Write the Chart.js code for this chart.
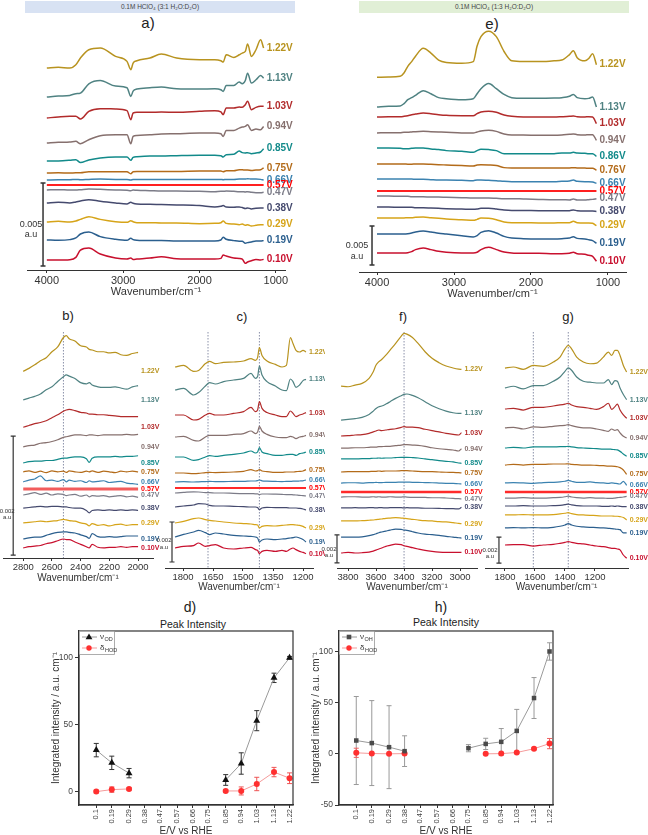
<!DOCTYPE html>
<html>
<head>
<meta charset="utf-8">
<title>Spectra and peak intensity</title>
<script src="https://cdn.jsdelivr.net/npm/chart.js@4.4.1/dist/chart.umd.min.js"></script>
<style>
  body { margin: 0; background: #fff; }
  #fig { position: relative; width: 648px; height: 835px; overflow: hidden; font-family: "Liberation Sans", Arial, sans-serif; color: #222; }
  #fig canvas { position: absolute; }
  .lbl { position: absolute; transform: translate(-50%, -50%); white-space: nowrap; }
  .band { position: absolute; top: 1px; width: 270px; height: 12px; line-height: 12px; font-size: 6.5px; text-align: center; color: #444; }
</style>
</head>
<body>
<div id="fig">
  <div class="band" style="left:25px;background:#d8e2f3;">0.1M HClO₄ (3:1 H₂O:D₂O)</div>
  <div class="band" style="left:359px;background:#e1efd6;">0.1M HClO₄ (1:3 H₂O:D₂O)</div>
  <div class="lbl" style="left:148px;top:22px;font-size:15px;">a)</div>
  <div class="lbl" style="left:492px;top:23px;font-size:15px;">e)</div>
  <div class="lbl" style="left:68px;top:315px;font-size:13px;">b)</div>
  <div class="lbl" style="left:242px;top:316px;font-size:13px;">c)</div>
  <div class="lbl" style="left:403px;top:316px;font-size:13px;">f)</div>
  <div class="lbl" style="left:568px;top:316px;font-size:13px;">g)</div>
  <div class="lbl" style="left:190px;top:607px;font-size:14px;">d)</div>
  <div class="lbl" style="left:441px;top:607px;font-size:14px;">h)</div>
  <div class="lbl" style="left:193px;top:624px;font-size:10.5px;">Peak Intensity</div>
  <div class="lbl" style="left:446px;top:622px;font-size:10.5px;">Peak Intensity</div>

  <canvas id="ca" width="324" height="275" style="left:0;top:25px"></canvas>
  <canvas id="ce" width="324" height="277" style="left:324px;top:25px"></canvas>
  <canvas id="cb" width="170" height="267" style="left:0;top:318px"></canvas>
  <canvas id="cc" width="175" height="276" style="left:150px;top:318px"></canvas>
  <canvas id="cf" width="172" height="276" style="left:318px;top:318px"></canvas>
  <canvas id="cg" width="170" height="276" style="left:478px;top:318px"></canvas>
  <canvas id="cd" width="255" height="225" style="left:50px;top:612px"></canvas>
  <canvas id="ch" width="255" height="225" style="left:310px;top:612px"></canvas>
</div>
<script>
// potentials (top to bottom in every stack)
const voltsA = ['1.22V','1.13V','1.03V','0.94V','0.85V','0.75V','0.66V','0.57V','0.47V','0.38V','0.29V','0.19V','0.10V'];
const voltsE = ['1.22V','1.13V','1.03V','0.94V','0.86V','0.76V','0.66V','0.57V','0.47V','0.38V','0.29V','0.19V','0.10V'];

// stacked spectra, y in 1e-4 a.u. (offset of each trace + its shape)
const aWavenumbers = [4000,3850,3700,3620,3560,3450,3300,3100,2950,2900,2870,2820,2650,2500,2300,2000,1800,1720,1690,1650,1550,1480,1440,1400,1370,1320,1260,1200,1160];
const aOffsets = [121.7,104.2,91.6,76.5,65.1,58.4,54.2,51.2,48.2,40.4,28.9,18.1,6.0];
const aTraces = [
  [0,0.4,0,2,6,11,12,7,4,-1,3,4.4,6,8.4,6,5,5,4.4,3.6,8,6.4,8,9,10,14.4,7,11,17,12],
  [0,0.6,1,2,2.4,8,10,6.6,5.6,0.4,3.6,4.8,5.6,6,5,4.8,5,4.4,3.4,7,7,9,8,10,14.4,8.4,10.4,13,11.4],
  [0,0.6,1,1,-0.6,4,5.6,5.4,4.4,-1,3,3.4,3.4,3.6,3.4,4,4.4,3.6,2,6,6,6.6,6.4,8,10,5,6.4,7,7],
  [0,0.4,0.6,1,-0.4,2,4.4,5,5,-0.4,4,4.6,5,5.4,5.6,6,6,5.6,4,7.6,7.6,9,9.6,10,11,7.6,8.4,8,10],
  [0.6,0.6,1,1.4,-0.4,1.2,2.4,3,3,1,2.8,3.2,3.6,3.6,3.8,4,4,3.8,3,4.4,4.6,6.6,5.6,5.4,5.6,5,5.4,6,8],
  [0,0.2,0,0.2,0.2,0.8,0.8,0.8,0.8,-0.4,0.8,1,1,1,1,1.2,1.2,1.2,0.8,1.4,1.4,2,2,1.8,1.8,1.6,1.8,2,3.2],
  [0,0.2,0.2,0.4,0.2,0.4,0.6,0.4,0.4,0,0.4,0.4,0.4,0.4,0.4,0.4,0.4,0.4,0.2,0.4,0.4,0.6,0.6,0.6,0.8,0.6,0.6,0.4,0],
  [0,0,0,0,0,0,0,0,0,0,0,0,0,0,0,0,0,0,0,0,0,0,0,0,0,0,0,0,0],
  [0,0.2,0,0,0.2,0.6,0.4,0,-0.2,-0.4,0,-0.2,-0.4,-0.6,-0.6,-0.8,-1,-0.8,-0.8,-0.6,-0.8,-1,-1,-1.2,-1,-1.4,-1.6,-1.6,-1.4],
  [0,0.4,0,0.6,1.2,2,1,0,-0.6,0.4,-0.2,-0.6,-0.8,-1,-1.2,-1.6,-2.4,-2,-1.6,-2.4,-2.6,-2.4,-2.8,-3.4,-3,-3.6,-3.2,-3,-3],
  [0,0.4,0,0.6,1.6,3.2,1.6,0.2,-0.2,0.8,0.2,-0.4,-0.4,-0.6,-0.6,-1,-0.8,-0.4,0.6,-0.8,-1.2,-1.6,-1.2,-2,-1.6,-2.4,-2,-1.6,-1.6],
  [0,-0.2,0.2,1.2,3.6,4.8,2,0.4,-0.2,1,0.2,-0.2,-0.4,-0.4,-0.6,-0.6,-0.6,0,1.6,0.4,-0.4,-0.8,-0.8,-2,-1.6,-1.2,-0.6,-0.6,-0.4],
  [0,0,0.2,1.6,6,7.2,3.6,1.2,0.6,1.2,0.4,0.6,1.2,2,0.8,0.6,0.6,1,3,2.4,1.2,1,0.6,-2,-1.2,-0.4,0.4,0,0.4]
];

const eWavenumbers = [4000,3850,3700,3650,3600,3550,3500,3400,3300,3200,3100,2900,2750,2700,2650,2550,2450,2350,2250,2100,1900,1700,1600,1500,1450,1400,1300,1250,1200,1150];
const eOffsets = [248.7,211.5,198.7,178.2,159,138.5,119.2,103.8,97.4,83.3,69.2,48.7,24.4];
const eTraces = [
  [0.9,1.3,2.1,6.4,15,21,28,38,32,23,20,19,21,41,53,60,53,34,22,21,21,22,23,30,35,26,22,25,31,17],
  [0,0.9,1.3,4.3,9.4,12,15,21,17,12,10.7,9.4,10.7,17,23.5,30,23.5,16.2,12,11.1,11.1,11.5,12,13.7,16.2,12,10.7,11.1,12.8,0],
  [0,0.4,0.4,0.9,1.7,3,3.8,5.1,4.3,3,2.1,1.7,1.7,4.3,6.4,7.3,6,2.6,0.9,0,0,0,0.4,0.9,1.3,0.4,0,0.4,0,-8.5],
  [0,0.4,0.4,0.9,0.9,1.3,1.7,2.1,1.7,1.3,0.9,0,0,1.3,2.6,3.4,2.1,-1.3,-2.6,-2.6,-3,-3,-2.6,-1.7,-1.3,-2.1,-2.6,-2.1,-2.1,-9.4],
  [0,0,-0.4,-0.9,-0.9,-0.4,0,0,-1.3,-2.1,-3.4,-4.3,-5.6,-3.4,-1.7,-2.1,-3.4,-7.3,-7.3,-7.3,-7.3,-7.3,-6.4,-6.4,-5.6,-6.4,-6.8,-7.3,-7.3,-10.7],
  [0,0,0,0,-0.4,-0.4,0,0,-0.4,-0.9,-1.3,-2.1,-2.6,-1.3,-0.9,-1.3,-2.1,-4.7,-5.1,-5.1,-5.1,-5.1,-5.1,-5.1,-4.7,-5.1,-5.1,-5.6,-5.6,-8.1],
  [0,0,0,0,0,0,-0.4,-0.4,-0.9,-1.3,-1.3,-1.7,-2.1,-1.3,-1.3,-1.7,-2.1,-3,-3.4,-3.4,-3.4,-3.4,-3,-2.6,-1.3,-3,-3.4,-3.4,-3.8,-5.6],
  [0,0,0,0,0,0,0,0,0,0,0,0,0,0,0,0,0,0,0,0,0,0,0,0,0,0,0,0,0,0],
  [0,0,-0.4,-0.4,-0.4,-0.9,-0.9,-0.9,-1.3,-1.3,-1.7,-2.1,-2.6,-2.6,-2.6,-2.6,-3,-3.4,-3.4,-3.8,-4.3,-4.7,-4.7,-5.1,-3.8,-5.1,-5.1,-4.7,-4.3,-3.4],
  [0,0,-0.4,-0.4,-0.4,-0.4,-0.9,-0.9,-1.3,-1.7,-2.1,-2.6,-3,-2.6,-1.7,-1.7,-2.6,-3.8,-4.3,-4.3,-4.7,-4.7,-4.7,-4.7,-3.8,-4.7,-5.1,-5.1,-5.1,-5.6],
  [0,0,0,0,0.4,0.4,0.9,1.3,0.4,-0.4,-1.3,-2.1,-3,-1.7,0,-0.4,-2.1,-5.1,-6,-6,-6.4,-6.4,-6,-6,-4.3,-6,-6.4,-6.4,-6.8,-9.8],
  [0,0,0,0,0.4,1.3,2.6,3.8,2.6,0.9,0,-2.1,-3.8,-2.1,2.1,4.3,1.3,-3,-5.1,-6,-6.4,-6.4,-6,-5.1,-3.4,-5.6,-6.4,-7.3,-8.5,-12],
  [0,0,0,0,0.4,1.7,4.3,6.4,4.3,2.1,0.9,0,0,0.9,4.3,7.3,4.3,1.3,0,-0.4,-0.4,-0.9,-0.9,-0.4,0.9,-0.9,-1.7,-3,-4.3,-10.7]
];

const bWavenumbers = [2800,2760,2720,2680,2640,2600,2560,2520,2500,2480,2440,2400,2360,2340,2320,2280,2240,2200,2160,2120,2080,2040,2000];
const bOffsets = [31.4,26.6,22.0,18.7,16.0,14.5,12.8,11.6,10.6,8.4,5.9,3.2,1.7];
const bTraces = [
  [0,0.5,1.1,1.8,2.3,3.3,4.1,5.7,6,5.5,5.1,4.3,4.1,3.7,3.6,3.3,3.3,3.1,3.2,2.8,2.7,3,3.2],
  [0,0.3,0.6,1,1.7,2.2,3.1,3.9,4.2,4,3.6,2.9,2.7,2.9,2.5,2.2,2.1,2.1,2.2,2,1.8,2.2,2.4],
  [0,0.3,0.6,0.8,1.1,1.6,2.1,2.7,2.9,3,2.8,2.5,2.4,2.2,2.2,2.1,2.1,2,1.9,1.8,1.8,1.8,1.8],
  [0,0.2,0.3,0.6,0.7,0.9,1.2,1.6,1.7,1.8,2,2,1.9,2,2,1.9,2,2,2,2,2.1,2,2.1],
  [0,0.2,0.3,0.3,0.4,0.4,0.6,0.8,0.8,0.9,1,1,0.7,0.1,0.8,1,1,1,1.1,1,1.1,1.1,1.2],
  [0,0.15,-0.1,0.1,-0.15,0.15,0,0.1,-0.1,0.15,0,-0.1,0.1,0,0.15,-0.1,0.1,0,-0.15,0.1,0,0.1,0],
  [0,0.3,0.5,1,0.2,0.3,0.1,0.4,0,0.3,0.1,0.2,-0.1,0.2,0,0.1,0.2,-0.1,0,0.1,-0.2,-0.3,-0.4],
  [0,0,0,0,0,0,0,0,0,0,0,0,0,0,0,0,0,0,0,0,0,0,0],
  [0,0.2,0.4,0.1,0.3,0,0.2,0.1,-0.1,0,0.1,-0.2,0,-0.3,-0.1,-0.2,-0.1,-0.3,-0.2,-0.1,-0.3,-0.2,-0.4],
  [0,0.1,0.2,0.3,0.2,0.3,0.3,0.2,0.2,0.1,0,0,-0.4,-0.8,-0.4,-0.3,-0.4,-0.3,-0.4,-0.3,-0.4,-0.3,-0.4],
  [0,0.1,0.2,0.3,0.2,0.3,0.4,0.6,0.5,0.4,0.3,0,-0.2,-0.5,-0.1,-0.4,-0.3,-0.5,-0.3,-0.2,-0.4,-0.3,-0.3],
  [0,0.2,0.3,0.3,0.6,0.9,1.1,1.2,1.2,1.1,1,0.7,0.4,0.1,0.9,0.4,0.3,0.4,0.3,0.4,0.5,0.5,0.5],
  [0,0.2,0.3,0.4,0.7,0.9,1.2,1.5,1.4,1.4,1,0.6,0.2,0,0.6,0.1,0,0.1,0.1,0.2,0.1,0.2,0.2]
];

const cWavenumbers = [1840,1797,1747,1722,1688,1667,1638,1597,1547,1497,1460,1438,1427,1418,1405,1380,1338,1305,1283,1263,1250,1235,1217,1200,1185];
const cOffsets = [100.5,89,76.5,65.5,55.5,47.5,43,40,37.5,30.5,22.5,15.5,10];
const cTraces = [
  [0,0.8,-2.2,-1.7,1.7,2.8,1.7,2.3,2.5,3,4.2,3.3,4.7,9.7,5.8,3,1.3,0,0.8,14.7,11.7,8.3,7.5,8.3,7.5],
  [0,0.8,-2.5,-1.3,2,3.7,3,4.2,5,5.8,8.3,5.8,6.7,12,7.5,4.2,2,0,-0.3,5.5,4.2,1.3,2.5,4.7,5.3],
  [0,0,-2.5,-2.2,0,0.8,0,0,0.8,1.7,3.8,1.7,2.5,6.7,3.3,1.2,0,-0.8,-0.8,2,0.8,-0.8,0,0.5,1.2],
  [0,0.3,-1.7,-2,0,0.8,0.8,0.8,1.3,1.7,3,1.7,2.5,5.3,3,1.3,0,-0.3,-0.3,0.3,0,-0.8,0,0.3,0.8],
  [0,0,-1.7,-1.3,0,0.7,0.3,0.8,1.3,2,3,2,2.5,4.7,2.5,1.7,0.8,0.8,1.2,1.3,1.3,0.8,1.7,2,2.5],
  [0,0,-0.3,-0.2,0.2,0.3,0.2,0.3,0.5,0.8,1.7,1,1.2,1.7,1,0.7,0.3,0.3,0.5,0.5,0.5,0.7,0.8,1,1.7],
  [0,0.2,0,0.1,0.2,0.3,0.2,0.2,0.3,0.3,0.5,0.5,0.7,1,0.6,0.4,0.3,0.2,0.3,0.3,0.4,0.4,0.5,0.6,1],
  [0,0,0,0,0,0,0,0,0,0,0,0,0,0,0,0,0,0,0,0,0,0,0,0,0],
  [0,0.3,0.6,0.5,0.2,0.2,0,0,-0.2,-0.3,-0.3,-0.4,-0.4,-0.8,-0.5,-0.5,-0.6,-0.7,-0.8,-0.8,-0.9,-1,-1.2,-1.3,-1.5],
  [0,0.5,1,1.7,1.5,0.8,0.5,0.5,0.3,0.2,0,0,-0.3,-1.3,-0.5,-0.2,-0.3,-0.3,-0.3,-0.5,-0.5,-0.5,-0.7,-1,-1.5],
  [0,0.8,2.2,2.5,1.7,1.3,1,0.5,0,-0.3,-0.5,-0.8,-1,-2.5,-1.7,-1.3,-1.5,-1.2,-1,-0.8,-0.8,-1,-1.2,-1.7,-2.5],
  [0,1.3,2.5,3.3,2.2,1.2,2,1.5,0.8,0.5,0.3,0,-0.5,-2.5,-1.5,-1,-1.3,-1,-0.8,-0.5,-0.3,0,-0.5,-1.3,-2.5],
  [0,0.8,1.2,2.5,0.8,1.2,1.7,0,-0.5,0,0.3,-0.8,-1.2,-2.8,-1.7,-1.2,-1.7,-1.2,-1.7,-0.5,0,-0.8,-1.7,-2.2,-2.8]
];

const fWavenumbers = [3850,3800,3750,3700,3650,3620,3600,3580,3560,3530,3500,3460,3420,3400,3380,3340,3300,3250,3200,3150,3100,3050,3010,2990];
const fOffsets = [130,105.7,94.3,85.7,77.9,68.6,60.7,54.3,50.7,42.9,33.6,22.1,10.7];
const fTraces = [
  [0,-0.5,0.7,1.9,5.5,10.2,15,17.4,19,22.1,25.7,30.5,35.7,37.6,37.1,34.7,30.5,24.5,19.8,16.7,14.3,12.9,12.1,11.9],
  [0,0.5,1,1.9,4,6.4,8.3,9.5,10,11.4,13.1,15.5,17.4,18.3,18.6,17.6,15.9,13.1,10.2,8.1,6.4,5.2,4.8,4.8],
  [0,0.2,0.7,1,1.9,2.9,3.6,4.3,3.8,4.3,4.8,5.2,6.2,6.7,6.4,6.4,6,4.8,3.8,2.9,1.9,1.2,0.7,2.4],
  [0,0,0.2,0.2,0.5,0.7,0.7,1,1,1.2,1.2,1.7,2.1,2.4,2.4,2.1,1.9,1.2,0.2,-0.5,-1,-1.4,-2.1,-0.5],
  [0,0,0,0.2,0.2,0.5,0.5,0.7,0.5,0.7,0.7,1,1.2,1.2,1.2,1,0.7,0,-0.5,-1.2,-1.7,-2.1,-2.9,-3.1],
  [0,0.2,0.2,0.3,0.3,0.5,0.5,0.7,0.5,0.7,0.7,0.7,0.9,1,0.9,0.7,0.5,0.3,0.2,0,-0.2,-0.3,-0.5,-0.7],
  [0,0.2,0.2,0,0.3,0.3,0.5,0.3,0.3,0.5,0.5,0.5,0.7,0.7,0.7,0.5,0.5,0.3,0.2,0,-0.2,-0.3,-0.5,-0.7],
  [0,0,0,0,0,0,0,0,0,0,0,0,0,0,0,0,0,0,0,0,0,0,0,0],
  [0,0.2,0.2,0,0,0.2,0,0.2,0,0,0.2,0,0,0.2,0,-0.2,-0.2,-0.3,-0.5,-0.5,-0.7,-1,-1.2,-1.4],
  [0,0,0.2,0,0.2,0.2,0,0.2,0.2,0,0.2,0.2,0.2,0,0.2,0,0,-0.2,-0.2,-0.3,-0.5,-0.5,-0.7,0.5],
  [0,0,0,0.2,0.5,0.7,1,1.2,1.4,1.9,2.1,2.4,2.1,1.9,1.7,1.2,0.7,0.2,0,-0.5,-0.7,-1.2,-1.7,-1.9],
  [0,0,0,0.2,1,1.7,2.4,3.1,3.6,4.3,5,5.7,5.5,5,4.8,3.8,2.9,2.1,1.7,1.2,0.5,0,-0.5,-0.7],
  [0,0.5,0,0.2,0.7,1.4,2.1,2.9,3.6,4.8,5.5,6.4,6,5.2,4.8,3.8,2.9,1.9,1.2,0.7,0.5,0.5,0.5,0.5]
];

const gWavenumbers = [1800,1744,1678,1611,1544,1478,1433,1400,1378,1356,1322,1278,1233,1189,1144,1111,1089,1067,1051,1033,1011,989];
const gOffsets = [153.8,138.5,122.3,107.7,92.3,79.2,65.4,58.5,53.8,47.7,40.8,30.8,17.7];
const gTraces = [
  [0,0.8,-1,2,1.3,4.6,8.4,14.8,17.4,14.8,8.4,4.6,3.3,3.8,8.4,12.3,9.7,13.6,13.6,9.7,2,-3.1],
  [0,1.3,-0.8,1.8,1.8,5.1,8.4,12.8,15.4,13.6,8.4,5.1,4.4,3.8,3.8,6.4,2.6,5.6,5.1,0,-5.1,-9],
  [0,0.5,-0.8,1.3,1.3,2.3,3.1,3.8,4.4,3.1,1.8,1.3,0.5,-0.3,1.8,4.4,-0.3,1.8,3.8,-0.8,-4.6,-7.2],
  [0,0.5,-0.8,0.8,0.5,1.3,1.8,2,2.6,1.8,0.8,0,0,-0.8,-1.8,-2.6,-0.8,-1.8,-1.3,-3.8,-6.4,-7.7],
  [0,0.5,0,0.8,0.8,0.8,1,1,1.3,0.8,0.3,0,-0.3,-0.5,-0.8,-0.8,-1,-1.3,-1.5,-2.6,-4.6,-6.4],
  [0,0.5,0,0.5,0.5,0.8,0.8,0.8,1,0.5,0.3,0,0,-0.3,-0.5,-0.8,-0.8,-1,-1.3,-2,-3.8,-7.2],
  [0,0.3,0,-0.3,0.3,0.5,0.8,1.3,2,1.3,0.5,0.5,0.8,0.3,0,-0.3,0,-0.3,-0.5,-0.8,1.3,-1.8],
  [0,0,0,0,0,0,0,0,0,0,0,0,0,0,0,0,0,0,0,0,0,0],
  [0,0,0.3,0,0,0.3,0.5,1,1.5,0.8,0.3,0,0.3,0,0,-0.3,-0.3,0,0.3,0.5,0.8,1.3],
  [0,0,0.3,0,0,0.3,0.5,1,1.5,0.8,0.3,0,0,0,-0.3,-0.3,0,-0.3,0,-0.3,-0.5,-0.5],
  [0,0,0.3,0,0,0.3,0.8,1.3,1.8,1,0.3,0,-0.3,-0.5,-0.8,-0.8,-0.8,-1,-1,-1.3,-2,-3.8],
  [0,0.3,0,0.3,0,0.5,1.3,2.3,3.3,2.3,1.3,0.8,0.5,0.3,0,-0.3,-0.5,-0.8,-1,-1.3,-3.8,-3.8],
  [0,0.3,0.3,-0.8,0,0.5,1.3,2,2.6,2,1.3,0.8,0,-0.8,-1.3,-2,-2.6,-2.6,-3.1,-3.8,-7.7,-10.2]
];

// peak intensity panels
const ePot = [0.1,0.19,0.29,0.38,0.47,0.57,0.66,0.75,0.85,0.94,1.03,1.13,1.22];
const dNuOD = [31,21.5,13.8,null,null,null,null,null,8.7,21,53,85,100];
const dNuODErr = [5,5,3.5,0,0,0,0,0,4,8,7.5,3.5,1];
const dDeltaHOD = [0,1.5,2,null,null,null,null,null,0.5,0.5,5.7,14.6,10];
const dDeltaHODErr = [1,2,1,0,0,0,0,0,1,3,5,3.5,4];
const hNuOH = [13,10.5,6.5,2.6,null,null,null,5.5,9.7,11.7,22.4,54.5,100];
const hNuOHErr = [43,41.5,40.5,15,0,0,0,3.5,5.5,13,21,20,8.5];
const hDeltaHOD = [1,0.3,0,0.2,null,null,null,null,0,0.2,1.3,5,10];
const hDeltaHODErr = [4.5,0,0,0,0,0,0,0,0,0,1,1,5];

Chart.defaults.font.family = '"Liberation Sans", Arial, sans-serif';
Chart.defaults.color = '#333';

const traceColors = ['#b8931f','#4f8282','#b22b2b','#86706e','#128a8a','#b36b1a','#3b82b0','#ff1a1a','#7c7c88','#454a6e','#d6a419','#2b5f8e','#c8102e'];
const FONT = '"Liberation Sans", Arial, sans-serif';

function specDeco(o) {
  return {
    id: 'specDeco',
    beforeDatasetsDraw(chart) {
      const { ctx, chartArea, scales: { x } } = chart;
      ctx.save();
      ctx.strokeStyle = '#8a90a8';
      ctx.lineWidth = 1;
      ctx.setLineDash([1.5, 1.5]);
      (o.guides || []).forEach(g => {
        const px = x.getPixelForValue(g);
        ctx.beginPath();
        ctx.moveTo(px, chartArea.top + 7);
        ctx.lineTo(px, chartArea.bottom);
        ctx.stroke();
      });
      ctx.restore();
    },
    afterDatasetsDraw(chart) {
      const { ctx, scales: { x, y } } = chart;
      ctx.save();
      ctx.font = o.labelFont;
      ctx.textBaseline = 'middle';
      ctx.textAlign = 'left';
      chart.data.datasets.forEach((ds, i) => {
        const pts = chart.getDatasetMeta(i).data;
        const last = pts[pts.length - 1];
        const py = o.labelAtStart ? pts[0].y : last.y;
        ctx.fillStyle = i === 7 ? '#ff0000' : traceColors[i];
        ctx.fillText(ds.label, last.x + 3, py);
      });
      // scale bar
      const b = o.bar;
      const bx = x.getPixelForValue(b.x);
      const y0 = y.getPixelForValue(b.from);
      const y1 = y.getPixelForValue(b.from + b.len);
      ctx.strokeStyle = '#333';
      ctx.lineWidth = b.w;
      ctx.beginPath();
      ctx.moveTo(bx, y0); ctx.lineTo(bx, y1);
      ctx.moveTo(bx - 2.5, y0); ctx.lineTo(bx + 2.5, y0);
      ctx.moveTo(bx - 2.5, y1); ctx.lineTo(bx + 2.5, y1);
      ctx.stroke();
      ctx.fillStyle = '#333';
      ctx.font = b.font;
      ctx.textAlign = 'center';
      const my = (y0 + y1) / 2 + b.dy;
      ctx.fillText(b.text, bx + b.dx, my);
      ctx.fillText('a.u', bx + b.dx, my + b.lh);
      ctx.restore();
    }
  };
}

function makeSpectrum(id, o) {
  const datasets = o.traces.map((tr, i) => ({
    label: o.volts[i],
    data: o.wn.map((w, j) => ({ x: w, y: o.offsets[i] + (tr[j] || 0) })),
    borderColor: i === 7 ? o.redColor : traceColors[i],
    borderWidth: i === 7 ? o.redWidth : o.lineWidth,
    pointRadius: 0,
    cubicInterpolationMode: 'monotone',
    clip: false
  }));
  new Chart(document.getElementById(id), {
    type: 'line',
    data: { datasets },
    options: {
      responsive: false, animation: false, events: [],
      layout: { padding: o.pad },
      plugins: { legend: { display: false }, tooltip: { enabled: false } },
      scales: {
        x: {
          type: 'linear', reverse: true, min: o.xmin, max: o.xmax,
          afterBuildTicks: s => { s.ticks = o.ticks.map(v => ({ value: v })); },
          afterFit: s => { s.height = o.axisH; },
          grid: { display: true, drawOnChartArea: false, drawTicks: true, tickLength: 3, color: '#333' },
          border: { color: '#333', width: 1 },
          ticks: { color: '#333', font: { size: o.tickSize }, padding: 1, maxRotation: 0, autoSkip: false, callback: v => String(v) },
          title: { display: true, text: 'Wavenumber/cm⁻¹', color: '#333', font: { size: o.titleSize }, padding: { top: 0, bottom: 1 } }
        },
        y: { display: false, min: 0, max: o.ymax }
      }
    },
    plugins: [specDeco(o)]
  });
}

makeSpectrum('ca', {
  wn: aWavenumbers, offsets: aOffsets, traces: aTraces, volts: voltsA,
  pad: { left: 27, right: 39, top: 5, bottom: 0 }, axisH: 30, xmin: 880, xmax: 4260, ymax: 144.6,
  ticks: [4000, 3000, 2000, 1000], tickSize: 11, titleSize: 11,
  lineWidth: 1.5, redWidth: 2, redColor: '#ff2020', labelFont: 'bold 10px ' + FONT,
  bar: { x: 4050, from: 2.4, len: 50, text: '0.005', dx: -12, dy: 0, lh: 10, font: '9px ' + FONT, w: 1.5 }
});
makeSpectrum('ce', {
  wn: eWavenumbers, offsets: eOffsets, traces: eTraces, volts: voltsE,
  pad: { left: 35, right: 22, top: 3, bottom: 0 }, axisH: 30, xmin: 766, xmax: 4234, ymax: 312.8,
  ticks: [4000, 3000, 2000, 1000], tickSize: 11, titleSize: 11,
  lineWidth: 1.5, redWidth: 2, redColor: '#ff2020', labelFont: 'bold 10px ' + FONT,
  bar: { x: 4065, from: 9, len: 50, text: '0.005', dx: -15, dy: 0, lh: 11, font: '9px ' + FONT, w: 1.5 }
});
makeSpectrum('cb', {
  wn: bWavenumbers, offsets: bOffsets, traces: bTraces, volts: voltsA, labelAtStart: true, guides: [2520],
  pad: { left: 3, right: 17, top: 7, bottom: 0 }, axisH: 27, xmin: 1896, xmax: 2941, ymax: 39.2,
  ticks: [2800, 2600, 2400, 2200, 2000], tickSize: 9.5, titleSize: 10,
  lineWidth: 1.2, redWidth: 3, redColor: '#f25c5c', labelFont: 'bold 7px ' + FONT,
  bar: { x: 2870, from: 0.5, len: 20, text: '0.002', dx: -6, dy: 16, lh: 6, font: '6px ' + FONT, w: 1.2 }
});
makeSpectrum('cc', {
  wn: cWavenumbers, offsets: cOffsets, traces: cTraces, volts: voltsA, guides: [1675, 1418],
  pad: { left: 15, right: 12, top: 7, bottom: 0 }, axisH: 26, xmin: 1150, xmax: 1890, ymax: 121.5,
  ticks: [1800, 1650, 1500, 1350, 1200], tickSize: 9.5, titleSize: 10,
  lineWidth: 1.2, redWidth: 2, redColor: '#ff2a2a', labelFont: 'bold 7px ' + FONT,
  bar: { x: 1855, from: 3, len: 20, text: '0.002', dx: -8, dy: -2, lh: 7, font: '6px ' + FONT, w: 1.2 }
});
makeSpectrum('cf', {
  wn: fWavenumbers, offsets: fOffsets, traces: fTraces, volts: voltsA, guides: [3400],
  pad: { left: 19, right: 13, top: 7, bottom: 0 }, axisH: 26, xmin: 2879, xmax: 3879, ymax: 173.6,
  ticks: [3800, 3600, 3400, 3200, 3000], tickSize: 9.5, titleSize: 10,
  lineWidth: 1.2, redWidth: 2.5, redColor: '#ff2a2a', labelFont: 'bold 7px ' + FONT,
  bar: { x: 3879, from: 3.6, len: 20, text: '0.002', dx: -8, dy: 0, lh: 6, font: '6px ' + FONT, w: 1.2 }
});
makeSpectrum('cg', {
  wn: gWavenumbers, offsets: gOffsets, traces: gTraces, volts: voltsA, guides: [1611, 1378],
  pad: { left: 7, right: 20, top: 7, bottom: 0 }, axisH: 26, xmin: 980, xmax: 1933, ymax: 186.9,
  ticks: [1800, 1600, 1400, 1200], tickSize: 9.5, titleSize: 10,
  lineWidth: 1.2, redWidth: 2.5, redColor: '#ff2a2a', labelFont: 'bold 7px ' + FONT,
  bar: { x: 1840, from: 3.8, len: 20, text: '0.002', dx: -9, dy: 0, lh: 6, font: '6px ' + FONT, w: 1.2 }
});

function drawMarker(ctx, style, x, y, r, color) {
  ctx.fillStyle = color;
  ctx.beginPath();
  if (style === 'triangle') {
    ctx.moveTo(x, y - r); ctx.lineTo(x + r * 0.95, y + r * 0.65); ctx.lineTo(x - r * 0.95, y + r * 0.65); ctx.closePath();
  } else if (style === 'rect') {
    ctx.rect(x - r * 0.8, y - r * 0.8, r * 1.6, r * 1.6);
  } else {
    ctx.arc(x, y, r, 0, Math.PI * 2);
  }
  ctx.fill();
}

function intensityDeco(o) {
  return {
    id: 'intensityDeco',
    beforeDatasetsDraw(chart) {
      const { ctx, scales: { x, y } } = chart;
      ctx.save();
      o.series.forEach(s => {
        ctx.strokeStyle = s.errColor;
        ctx.lineWidth = 1;
        ePot.forEach((v, i) => {
          if (s.values[i] === null || !s.errors[i]) return;
          const px = x.getPixelForValue(v);
          const yt = y.getPixelForValue(s.values[i] + s.errors[i]);
          const yb = y.getPixelForValue(s.values[i] - s.errors[i]);
          ctx.beginPath();
          ctx.moveTo(px, yt); ctx.lineTo(px, yb);
          ctx.moveTo(px - 2.5, yt); ctx.lineTo(px + 2.5, yt);
          ctx.moveTo(px - 2.5, yb); ctx.lineTo(px + 2.5, yb);
          ctx.stroke();
        });
      });
      ctx.restore();
    },
    afterDraw(chart) {
      const { ctx, chartArea: a } = chart;
      ctx.save();
      ctx.strokeStyle = '#333';
      ctx.lineWidth = 1.2;
      ctx.strokeRect(a.left, a.top, a.right - a.left, a.bottom - a.top);
      // legend box
      ctx.fillStyle = '#fff';
      ctx.fillRect(a.left, a.top, 35, 23);
      ctx.strokeStyle = '#999';
      ctx.lineWidth = 0.8;
      ctx.strokeRect(a.left + 0.5, a.top + 0.5, 35, 23);
      o.series.forEach((s, i) => {
        const ly = a.top + 6 + i * 11;
        ctx.strokeStyle = s.line;
        ctx.lineWidth = 1;
        ctx.beginPath(); ctx.moveTo(a.left + 3, ly); ctx.lineTo(a.left + 18, ly); ctx.stroke();
        drawMarker(ctx, s.marker, a.left + 10, ly, s.radius * 0.9, s.fill);
        ctx.fillStyle = '#333';
        ctx.textBaseline = 'middle';
        ctx.textAlign = 'left';
        ctx.font = '8px ' + FONT;
        ctx.fillText(s.symbol, a.left + 21, ly);
        const w = ctx.measureText(s.symbol).width;
        ctx.font = '5.5px ' + FONT;
        ctx.fillText(s.sub, a.left + 21 + w + 0.5, ly + 2.5);
      });
      ctx.restore();
    }
  };
}

function makeIntensity(id, o) {
  new Chart(document.getElementById(id), {
    type: 'line',
    data: {
      datasets: o.series.map(s => ({
        label: s.symbol + s.sub,
        data: ePot.map((v, i) => ({ x: v, y: s.values[i] })),
        borderColor: s.line, borderWidth: 1,
        pointStyle: s.marker, pointRadius: s.radius, pointBorderWidth: 0,
        pointBackgroundColor: s.fill, pointBorderColor: s.fill,
        spanGaps: false, clip: false
      }))
    },
    options: {
      responsive: false, animation: false, events: [],
      layout: { padding: { top: 19, right: 12, left: 0, bottom: 0 } },
      plugins: { legend: { display: false }, tooltip: { enabled: false } },
      scales: {
        x: {
          type: 'linear', min: 0, max: 1.24,
          afterBuildTicks: s => { s.ticks = ePot.map(v => ({ value: v })); },
          afterFit: s => { s.height = 32; },
          grid: { drawOnChartArea: false, tickLength: 3, color: '#333' },
          border: { color: '#333', width: 1.2 },
          ticks: { minRotation: 90, maxRotation: 90, autoSkip: false, font: { size: 7.5 }, padding: 1, color: '#444', callback: v => String(v) },
          title: { display: true, text: 'E/V vs RHE', font: { size: 10 }, padding: 0, color: '#333' }
        },
        y: {
          min: o.ymin, max: 120,
          afterBuildTicks: s => { s.ticks = o.yticks.map(v => ({ value: v })); },
          afterFit: s => { s.width = 29; },
          grid: { drawOnChartArea: false, tickLength: 4, color: '#333' },
          border: { color: '#333', width: 1.2 },
          ticks: { font: { size: 8.5 }, padding: 2, color: '#444', callback: v => String(v) },
          title: { display: true, text: 'Integrated intensity / a.u. cm⁻¹', font: { size: 10 }, padding: 0, color: '#333' }
        }
      }
    },
    plugins: [intensityDeco(o)]
  });
}

makeIntensity('cd', {
  ymin: -10, yticks: [0, 50, 100],
  series: [
    { symbol: 'ν', sub: 'OD', values: dNuOD, errors: dNuODErr, line: '#9a9a9a', fill: '#111', marker: 'triangle', radius: 4, errColor: '#333' },
    { symbol: 'δ', sub: 'HOD', values: dDeltaHOD, errors: dDeltaHODErr, line: '#f59b9b', fill: '#ff3030', marker: 'circle', radius: 3, errColor: '#ee5555' }
  ]
});
makeIntensity('ch', {
  ymin: -50, yticks: [-50, 0, 50, 100],
  series: [
    { symbol: 'ν', sub: 'OH', values: hNuOH, errors: hNuOHErr, line: '#9a9a9a', fill: '#4a4a4a', marker: 'rect', radius: 3.2, errColor: '#999' },
    { symbol: 'δ', sub: 'HOD', values: hDeltaHOD, errors: hDeltaHODErr, line: '#f59b9b', fill: '#ff3030', marker: 'circle', radius: 3, errColor: '#ee6060' }
  ]
});
</script>
</body>
</html>
